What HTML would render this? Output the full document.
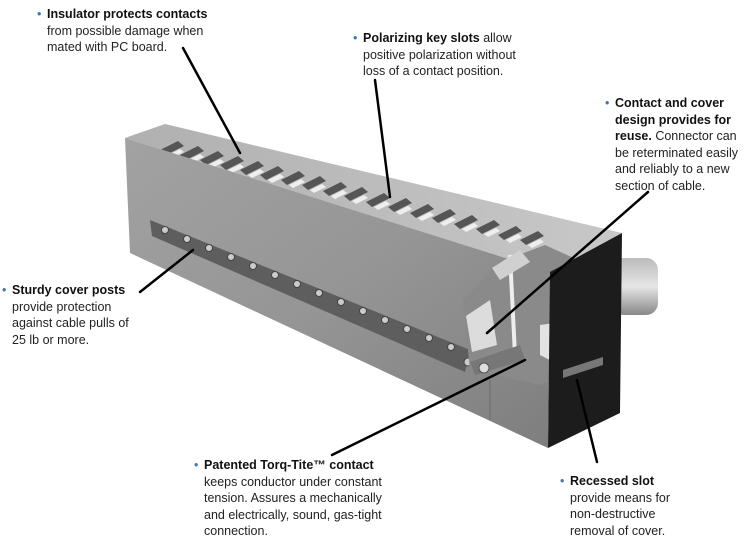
<!DOCTYPE html>
<html><head><meta charset="utf-8"><style>
html,body{margin:0;padding:0;background:#fff;}
.wrap{position:relative;width:750px;height:546px;overflow:hidden;font-family:"Liberation Sans",Arial,sans-serif;}
.t{position:absolute;font-size:12.5px;line-height:16.5px;color:#222;}
.t b{color:#111;}
.bl{color:#3a7ab8;position:absolute;left:-10px;}
</style></head><body><div class="wrap">
<svg width="750" height="546" style="position:absolute;left:0;top:0">
<defs>
<linearGradient id="fr" x1="0" y1="0" x2="1" y2="1"><stop offset="0" stop-color="#a2a2a2"/><stop offset="0.5" stop-color="#959595"/><stop offset="1" stop-color="#7e7e7e"/></linearGradient>
<linearGradient id="tp" x1="0" y1="0" x2="1" y2="0"><stop offset="0" stop-color="#b0b0b0"/><stop offset="1" stop-color="#c8c8c8"/></linearGradient>
<linearGradient id="cb" x1="0" y1="0" x2="0" y2="1"><stop offset="0" stop-color="#bbb"/><stop offset="0.5" stop-color="#e6e6e6"/><stop offset="1" stop-color="#888"/></linearGradient>
<g id="s"><polygon points="0,0 18,-9 24,-4 6,5" fill="#555"/><polygon points="8,5 20,-1 24,2 12,8" fill="#eee"/></g>
</defs>
<!-- cable -->
<rect x="612" y="258" width="46" height="57" rx="12" fill="url(#cb)"/>
<!-- top face -->
<polygon points="125,138 165,124 622,233 550,272" fill="url(#tp)"/>
<!-- slots -->
<g>
<use href="#s" x="160" y="150"/><use href="#s" x="180" y="155"/><use href="#s" x="200" y="160"/><use href="#s" x="220" y="165"/>
<use href="#s" x="240" y="170"/><use href="#s" x="260" y="175"/><use href="#s" x="281" y="180"/><use href="#s" x="302" y="185"/>
<use href="#s" x="323" y="191"/><use href="#s" x="344" y="196"/><use href="#s" x="366" y="202"/><use href="#s" x="388" y="207"/>
<use href="#s" x="410" y="213"/><use href="#s" x="432" y="218"/><use href="#s" x="454" y="224"/><use href="#s" x="476" y="229"/>
<use href="#s" x="498" y="235"/><use href="#s" x="520" y="240"/>
</g>
<!-- front face -->
<polygon points="125,138 550,272 548,448 130,253" fill="url(#fr)"/>
<line x1="490" y1="380" x2="490" y2="420" stroke="#6a6a6a" stroke-width="1"/>
<!-- cable row -->
<polygon points="150,220 470,350 465,372 152,236" fill="#5e5e5e"/>
<g fill="#ccc" stroke="#444" stroke-width="1">
<circle cx="165" cy="230" r="3.5"/><circle cx="187" cy="239" r="3.5"/><circle cx="209" cy="248" r="3.5"/><circle cx="231" cy="257" r="3.5"/><circle cx="253" cy="266" r="3.5"/><circle cx="275" cy="275" r="3.5"/><circle cx="297" cy="284" r="3.5"/><circle cx="319" cy="293" r="3.5"/><circle cx="341" cy="302" r="3.5"/><circle cx="363" cy="311" r="3.5"/><circle cx="385" cy="320" r="3.5"/><circle cx="407" cy="329" r="3.5"/><circle cx="429" cy="338" r="3.5"/><circle cx="451" cy="347" r="3.5"/><circle cx="468" cy="362" r="4"/>
</g>
<!-- cutaway -->
<polygon points="463,300 500,262 545,245 600,270 605,360 540,385 470,370" fill="#8a8a8a"/>
<polygon points="466,316 490,300 497,345 472,352" fill="#dcdcdc"/>
<polygon points="540,325 590,318 605,350 565,368 540,355" fill="#e2e2e2"/>
<line x1="510" y1="255" x2="515" y2="355" stroke="#eee" stroke-width="4"/>
<polygon points="492,268 520,250 530,262 500,280" fill="#d0d0d0"/>
<polygon points="470,362 520,345 525,360 475,375" fill="#777"/>
<circle cx="484" cy="368" r="5" fill="#ddd" stroke="#555"/>
<!-- end face -->
<polygon points="550,272 622,233 620,413 548,448" fill="#1c1c1c"/>
<polygon points="563,370 603,357 603,365 563,378" fill="#777"/>
<!-- leaders -->
<g stroke="#000" stroke-width="2.5" stroke-linecap="round">
<line x1="183" y1="48" x2="240" y2="153"/>
<line x1="375" y1="80" x2="390" y2="197"/>
<line x1="648" y1="192" x2="487" y2="333"/>
<line x1="140" y1="292" x2="193" y2="250"/>
<line x1="332" y1="455" x2="525" y2="360"/>
<line x1="597" y1="462" x2="577" y2="380"/>
</g>
</svg>
<div class="t" style="left:47px;top:6px"><span class="bl">•</span><b>Insulator protects contacts</b><br>from possible damage when<br>mated with PC board.</div>
<div class="t" style="left:363px;top:30px"><span class="bl">•</span><b>Polarizing key slots</b> allow<br>positive polarization without<br>loss of a contact position.</div>
<div class="t" style="left:615px;top:95px"><span class="bl">•</span><b>Contact and cover<br>design provides for<br>reuse.</b> Connector can<br>be reterminated easily<br>and reliably to a new<br>section of cable.</div>
<div class="t" style="left:12px;top:282px"><span class="bl">•</span><b>Sturdy cover posts</b><br>provide protection<br>against cable pulls of<br>25 lb or more.</div>
<div class="t" style="left:204px;top:457px"><span class="bl">•</span><b>Patented Torq-Tite™ contact</b><br>keeps conductor under constant<br>tension. Assures a mechanically<br>and electrically, sound, gas-tight<br>connection.</div>
<div class="t" style="left:570px;top:473px"><span class="bl">•</span><b>Recessed slot</b><br>provide means for<br>non-destructive<br>removal of cover.</div>
</div></body></html>
